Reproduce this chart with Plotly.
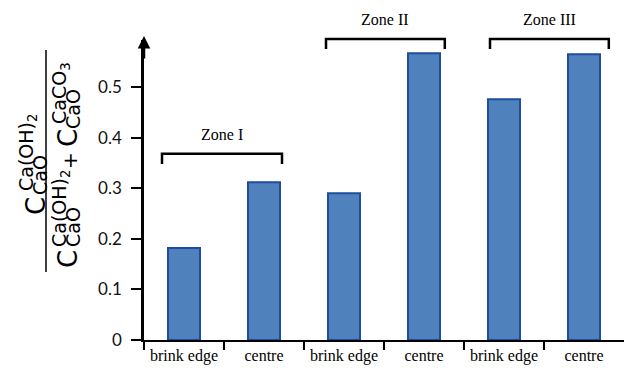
import plotly.graph_objects as go

# ---- data ----
categories = ["brink edge", "centre", "brink edge", "centre", "brink edge", "centre"]
ratio_values = [0.182, 0.312, 0.290, 0.567, 0.476, 0.565]
zone_names = ["Zone I", "Zone II", "Zone III"]
zone_members = [(0, 1), (2, 3), (4, 5)]
y_tick_values = [0, 0.1, 0.2, 0.3, 0.4, 0.5]

# ---- layout constants ----
W, H = 624, 370
ML, MR, MT, MB = 144, 0, 40, 30
PW, PH = W - ML - MR, H - MT - MB
YMAX = 0.593
SANS = "Lato"
LABEL_FONT = "DejaVu Sans"
SERIF = "Liberation Serif"

x_pos = list(range(len(categories)))
XMIN, XMAX = -0.5, len(categories) - 0.5


def data2paper(x, y):
    return (x - XMIN) / (XMAX - XMIN), y / YMAX


fig = go.Figure()
fig.add_trace(go.Bar(
    x=x_pos, y=ratio_values, width=0.4,
    marker=dict(color="#4F81BD", line=dict(color="#1D4E9E", width=2)),
    showlegend=False, hoverinfo="y",
))

# zone brackets
bracket_top = [0.368, 0.595, 0.595]
bracket_off = [(-0.275, 0.225), (-0.225, 0.26), (-0.175, 0.31)]
drop = 0.02
annotations = []
shapes = []
for name, (a, b), yt, (oa, ob) in zip(zone_names, zone_members, bracket_top, bracket_off):
    xa, xb = x_pos[a] + oa, x_pos[b] + ob
    pa, pt = data2paper(xa, yt)
    pb, pd = data2paper(xb, yt - drop)
    shapes.append(dict(
        type="path", xref="paper", yref="paper",
        path=f"M {pa},{pd} L {pa},{pt} L {pb},{pt} L {pb},{pd}",
        line=dict(color="black", width=2.5),
    ))
    annotations.append(dict(
        x=(pa + pb) / 2, y=pt, xref="paper", yref="paper", text=name, showarrow=False,
        xanchor="center", yanchor="bottom", yshift=9,
        font=dict(family=SERIF, size=16, color="black"),
    ))


# y-axis title (built from pieces)
def px2paper(px, py):
    return (px - ML) / PW, (MT + PH - py) / PH


label_parts = [
    ("C", 36, 206, 26),
    ("Ca(OH)<sub>2</sub>", 27, 153, 19),
    ("CaO", 40, 175, 19),
    ("C", 68, 259, 26),
    ("Ca(OH)<sub>2</sub>", 60, 209, 19),
    ("CaO", 73, 227, 19),
    ("+", 70, 161, 20),
    ("C", 68, 138, 26),
    ("CaCO<sub>3</sub>", 60, 93, 19),
    ("CaO", 73, 109, 19),
]
for txt, px, py, sz in label_parts:
    xp, yp = px2paper(px, py)
    annotations.append(dict(
        x=xp, y=yp, xref="paper", yref="paper", text=txt, showarrow=False,
        textangle=-90, xanchor="center", yanchor="middle",
        font=dict(family=LABEL_FONT, size=sz, color="black"),
    ))

# axis arrow
annotations.append(dict(
    x=0, y=1.013, xref="paper", yref="paper", ax=0, ay=24, axref="pixel", ayref="pixel",
    text="", showarrow=True, arrowhead=2, arrowsize=1, arrowwidth=2.5, arrowcolor="black",
))

fx0, fy0 = px2paper(46, 50)
fx1, fy1 = px2paper(46, 272)
shapes.append(dict(type="line", xref="paper", yref="paper", x0=fx0, x1=fx1, y0=fy0, y1=fy1,
                   line=dict(color="black", width=1.5)))

fig.update_layout(
    width=W, height=H,
    margin=dict(l=ML, r=MR, t=MT, b=MB, autoexpand=False),
    paper_bgcolor="white", plot_bgcolor="white",
    annotations=annotations, shapes=shapes,
    xaxis=dict(
        range=[XMIN, XMAX], automargin=False,
        tickvals=x_pos, ticktext=categories, ticks="",
        tickfont=dict(family=SERIF, size=16, color="black"),
        showline=True, linecolor="black", linewidth=2, showgrid=False, zeroline=False,
        minor=dict(tickvals=[i - 0.5 for i in x_pos], ticks="outside", ticklen=8,
                   tickwidth=2, tickcolor="black", showgrid=False),
    ),
    yaxis=dict(
        range=[0, YMAX], tickvals=y_tick_values, automargin=False,
        ticks="outside", ticklen=10, tickwidth=2, tickcolor="black", ticklabelstandoff=6,
        tickfont=dict(family=SANS, size=17, color="#111111"),
        showline=True, linecolor="black", linewidth=2.5, showgrid=False, zeroline=False,
    ),
)

fig.write_html(
    "out.html",
    config={"displayModeBar": False},
    post_script="document.body.style.margin='0';document.body.style.overflow='hidden';",
)
